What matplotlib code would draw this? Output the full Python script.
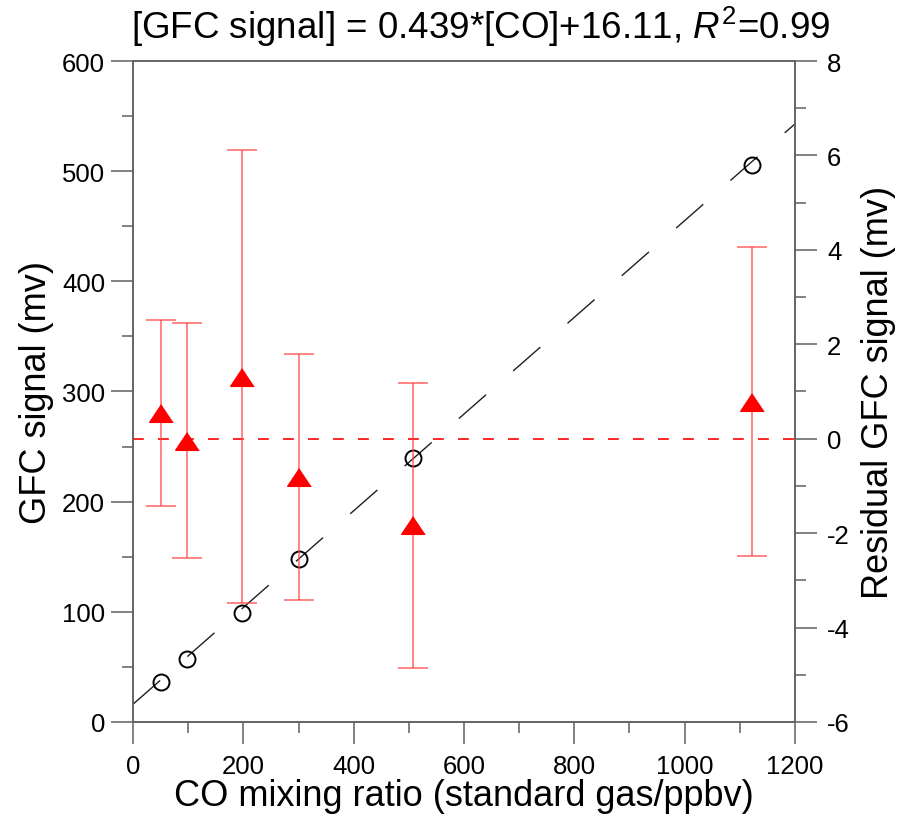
import matplotlib
matplotlib.use("Agg")
import matplotlib.pyplot as plt
from matplotlib.ticker import MultipleLocator

plt.rcParams['font.family'] = ['Liberation Sans', 'DejaVu Sans']
plt.rcParams['mathtext.fontset'] = 'custom'
plt.rcParams['mathtext.rm'] = 'Liberation Sans'
plt.rcParams['mathtext.it'] = 'Liberation Sans:italic'
plt.rcParams['axes.unicode_minus'] = False

# standard gas CO mixing ratio (ppbv)
co_ppbv = [50, 98, 197, 301, 508, 1122]
# measured GFC signal (mv)
gfc_signal = [36.6, 57.2, 98.9, 148, 239.4, 505.6]
# residuals of the fit (mv) and their error bars
residual = [0.54, -0.04, 1.31, -0.81, -1.83, 0.78]
residual_err = [1.97, 2.49, 4.80, 2.61, 3.02, 3.27]

slope = 0.439
intercept = 16.11
fit_x = [0, 1200]
fit_y = [intercept + slope * x for x in fit_x]

spine_col = '#606060'

fig = plt.figure(figsize=(9, 8.29), dpi=100)
ax = fig.add_axes([0.1478, 0.1279, 0.7355, 0.7973])
ax2 = ax.twinx()

# regression line + standards
ax.plot(fit_x, fit_y, color='#202020', lw=1.0, dashes=(26, 26), zorder=2)
ax.plot(co_ppbv, gfc_signal, 'o', mfc='none', mec='black', ms=11.5, mew=1.4, zorder=3)

# residuals on the right axis
ax2.axhline(0, color='red', lw=1.2, dashes=(6.5, 8.5))
ax2.errorbar(co_ppbv, residual, yerr=residual_err, fmt='none',
             ecolor=(1, 0.25, 0.25, 0.75), elinewidth=1.2, capsize=11, capthick=1.2)
tri = [(0, 0.75), (-1, -0.75), (1, -0.75)]
ax2.plot(co_ppbv, residual, ls='none', marker=tri, color='red', ms=17)

ax.set_xlim(0, 1200)
ax.set_ylim(0, 600)
ax2.set_ylim(-6, 8)

ax.xaxis.set_major_locator(MultipleLocator(200))
ax.xaxis.set_minor_locator(MultipleLocator(100))
ax.yaxis.set_major_locator(MultipleLocator(100))
ax.yaxis.set_minor_locator(MultipleLocator(50))
ax2.yaxis.set_major_locator(MultipleLocator(2))
ax2.yaxis.set_minor_locator(MultipleLocator(1))

for a in (ax, ax2):
    for s in a.spines.values():
        s.set_color(spine_col)
        s.set_linewidth(1.1)
    a.tick_params(which='major', direction='out', length=16, width=1.1,
                  color=spine_col, labelsize=18.5, labelcolor='black')
    a.tick_params(which='minor', direction='out', length=8, width=1.1, color=spine_col)

ax.tick_params(axis='y', pad=4)
ax.tick_params(axis='x', pad=7)
ax2.tick_params(axis='y', pad=7)

ax.set_xlabel('CO mixing ratio (standard gas/ppbv)', fontsize=26, labelpad=0)
ax.set_ylabel('GFC signal (mv)', fontsize=26, labelpad=6)
ax2.set_ylabel('Residual GFC signal (mv)', fontsize=26, labelpad=8)
# title sits a bit right of the axes centre in the original
fig.text(0.534, 0.968, r'[GFC signal] = 0.439*[CO]+16.11, $\mathit{R}^{\mathrm{2}}$=0.99',
         fontsize=26.5, ha='center', va='center')

fig.savefig('out.png', dpi=100)
